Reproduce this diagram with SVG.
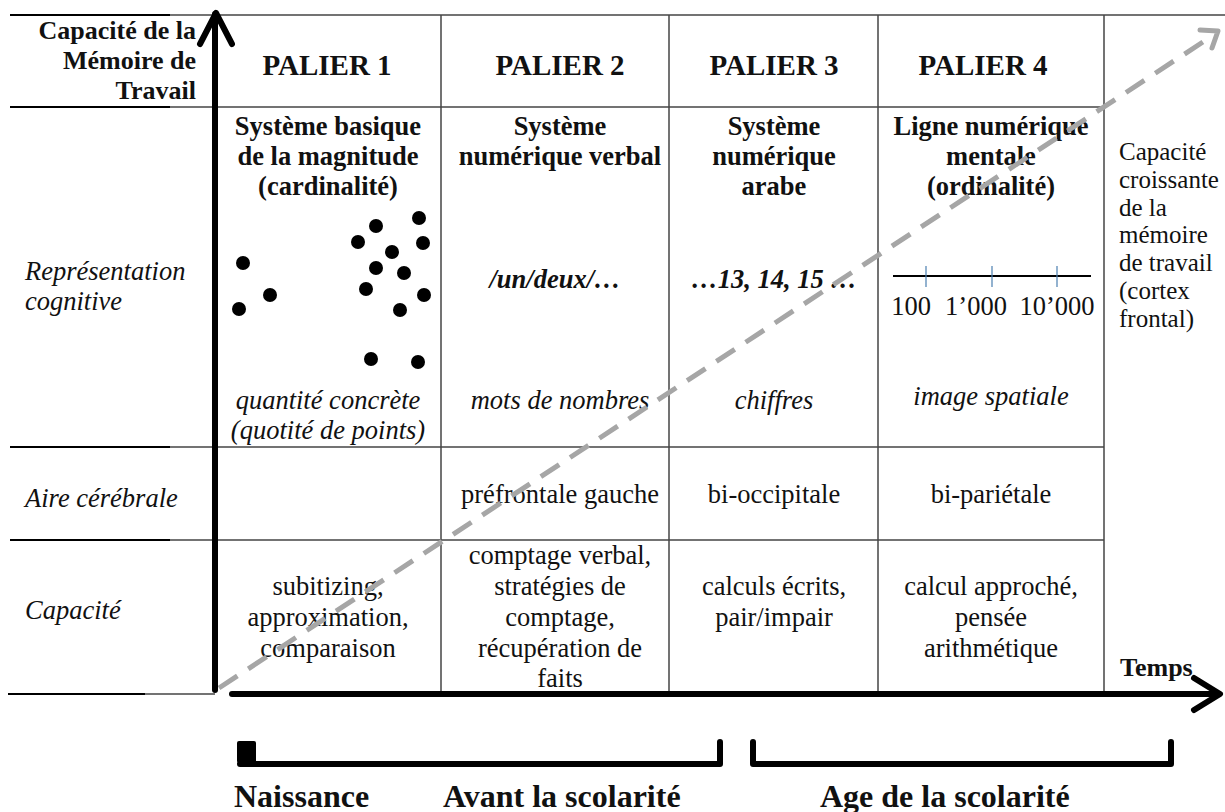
<svg xmlns="http://www.w3.org/2000/svg" width="1225" height="812" viewBox="0 0 1225 812" font-family="'Liberation Serif', serif">
<style>
text{font-family:'Liberation Serif','Times New Roman',serif;fill:#111}
.b{font-weight:bold}
.h{font-weight:bold;font-size:29px;text-anchor:middle}
.t{font-weight:bold;font-size:26.5px;text-anchor:middle}
.r{font-size:26.5px;text-anchor:middle}
.i{font-size:26.5px;font-style:italic}
.ic{font-size:26.5px;font-style:italic;text-anchor:middle}
.m{font-size:25px}
.g{stroke:#444;stroke-width:1.5;fill:none}
.k{stroke:#000;stroke-width:2;fill:none}
.ax{stroke:#000;stroke-width:6;fill:none;stroke-linecap:round;stroke-linejoin:round}
.dot{fill:#000}
</style>
<rect width="1225" height="812" fill="#fff"/>
<g id="grid">
<line class="k" x1="10" y1="15" x2="170" y2="15"/>
<line class="g" x1="170" y1="15" x2="1225" y2="15"/>
<line class="k" x1="10" y1="107" x2="170" y2="107"/>
<line class="g" x1="170" y1="107" x2="1104" y2="107"/>
<line class="k" x1="10" y1="447" x2="170" y2="447"/>
<line class="g" x1="170" y1="447" x2="1104" y2="447"/>
<line class="k" x1="10" y1="540" x2="170" y2="540"/>
<line class="g" x1="170" y1="540" x2="1104" y2="540"/>
<line class="k" x1="8" y1="694" x2="145" y2="694"/>
<line class="g" x1="145" y1="694" x2="215" y2="694"/>
<line class="g" x1="441" y1="15" x2="441" y2="692"/>
<line class="g" x1="669" y1="15" x2="669" y2="692"/>
<line class="g" x1="878" y1="15" x2="878" y2="692"/>
<line class="g" x1="1104" y1="15" x2="1104" y2="692"/>
</g>
<g id="row-labels">
<text class="b" font-size="26" text-anchor="end" x="196" y="39">Capacité de la</text>
<text class="b" font-size="26" text-anchor="end" x="196" y="69">Mémoire de</text>
<text class="b" font-size="26" text-anchor="end" x="196" y="99">Travail</text>
<text class="i" x="25" y="280">Représentation</text>
<text class="i" x="25" y="310">cognitive</text>
<text class="i" x="25" y="507">Aire cérébrale</text>
<text class="i" x="25" y="619">Capacité</text>
</g>
<g id="palier1">
<text class="h" x="327" y="75">PALIER 1</text>
<text class="t" x="328" y="135">Système basique</text>
<text class="t" x="328" y="165">de la magnitude</text>
<text class="t" x="328" y="195">(cardinalité)</text>
<circle class="dot" cx="243" cy="263" r="7"/>
<circle class="dot" cx="270" cy="295" r="7"/>
<circle class="dot" cx="239" cy="309" r="7"/>
<circle class="dot" cx="358" cy="242" r="7"/>
<circle class="dot" cx="376" cy="226" r="7"/>
<circle class="dot" cx="419" cy="218" r="7"/>
<circle class="dot" cx="423" cy="243" r="7"/>
<circle class="dot" cx="392" cy="252" r="7"/>
<circle class="dot" cx="376" cy="268" r="7"/>
<circle class="dot" cx="404" cy="273" r="7"/>
<circle class="dot" cx="366" cy="289" r="7"/>
<circle class="dot" cx="424" cy="295" r="7"/>
<circle class="dot" cx="400" cy="310" r="7"/>
<circle class="dot" cx="371" cy="359" r="7"/>
<circle class="dot" cx="418" cy="362" r="7"/>
<text class="ic" x="328" y="409">quantité concrète</text>
<text class="ic" x="328" y="439">(quotité de points)</text>
<text class="r" x="328" y="595">subitizing,</text>
<text class="r" x="328" y="626">approximation,</text>
<text class="r" x="328" y="657">comparaison</text>
</g>
<g id="palier2">
<text class="h" x="560" y="75">PALIER 2</text>
<text class="t" x="560" y="135">Système</text>
<text class="t" x="560" y="165">numérique verbal</text>
<text class="t" x="555" y="288" font-style="italic">/un/deux/…</text>
<text class="ic" x="560" y="409">mots de nombres</text>
<text class="r" x="560" y="503">préfrontale gauche</text>
<text class="r" x="560" y="564">comptage verbal,</text>
<text class="r" x="560" y="595">stratégies de</text>
<text class="r" x="560" y="626">comptage,</text>
<text class="r" x="560" y="657">récupération de</text>
<text class="r" x="560" y="687">faits</text>
</g>
<g id="palier3">
<text class="h" x="774" y="75">PALIER 3</text>
<text class="t" x="774" y="135">Système</text>
<text class="t" x="774" y="165">numérique</text>
<text class="t" x="774" y="195">arabe</text>
<text class="t" x="774" y="288" font-style="italic">…13, 14, 15 …</text>
<text class="ic" x="774" y="409">chiffres</text>
<text class="r" x="774" y="503">bi-occipitale</text>
<text class="r" x="774" y="595">calculs écrits,</text>
<text class="r" x="774" y="626">pair/impair</text>
</g>
<g id="palier4">
<text class="h" x="983" y="75">PALIER 4</text>
<text class="t" x="991" y="135">Ligne numérique</text>
<text class="t" x="991" y="165">mentale</text>
<text class="t" x="991" y="195">(ordinalité)</text>
<line x1="893" y1="276" x2="1091" y2="276" stroke="#000" stroke-width="2"/>
<line x1="926" y1="266" x2="926" y2="287" stroke="#4a7fb0" stroke-width="1.2"/>
<line x1="992" y1="266" x2="992" y2="287" stroke="#4a7fb0" stroke-width="1.2"/>
<line x1="1057" y1="266" x2="1057" y2="287" stroke="#4a7fb0" stroke-width="1.2"/>
<text class="r" font-size="24.5" x="911" y="315">100</text>
<text class="r" font-size="24.5" x="976" y="315">1’000</text>
<text class="r" font-size="24.5" x="1057" y="315">10’000</text>
<text class="ic" x="991" y="405">image spatiale</text>
<text class="r" x="991" y="503">bi-pariétale</text>
<text class="r" x="991" y="595">calcul approché,</text>
<text class="r" x="991" y="626">pensée</text>
<text class="r" x="991" y="657">arithmétique</text>
</g>
<g id="memoire">
<text class="m" x="1119" y="160">Capacité</text>
<text class="m" x="1119" y="188">croissante</text>
<text class="m" x="1119" y="216">de la</text>
<text class="m" x="1119" y="243">mémoire</text>
<text class="m" x="1119" y="271">de travail</text>
<text class="m" x="1119" y="299">(cortex</text>
<text class="m" x="1119" y="327">frontal)</text>
</g>
<g id="connectors">
<line x1="219" y1="688" x2="1212" y2="36" stroke="#a6a6a6" stroke-width="5" stroke-dasharray="22 13"/>
<polyline points="1200,30 1218,31 1212,48" fill="none" stroke="#a6a6a6" stroke-width="5" stroke-linecap="round" stroke-linejoin="round"/>
<line class="ax" x1="215" y1="690" x2="215" y2="14"/>
<polyline class="ax" points="200,44 216,13 232,44"/>
<line class="ax" x1="232" y1="694" x2="1218" y2="694"/>
<polyline class="ax" points="1194,678 1220,694 1194,710"/>
</g>
<g id="periods">
<rect x="237" y="741" width="19" height="22" rx="2" fill="#000"/>
<polyline class="ax" points="240,764 720,764 720,742"/>
<polyline class="ax" points="753,742 753,764 1171,764 1171,742"/>
<text class="b" font-size="32" x="234" y="807">Naissance</text>
<text class="b" font-size="32" x="443" y="807">Avant la scolarité</text>
<text class="b" font-size="32" x="820" y="807">Age de la scolarité</text>
<text class="b" font-size="26" x="1120" y="676">Temps</text>
</g>
</svg>
